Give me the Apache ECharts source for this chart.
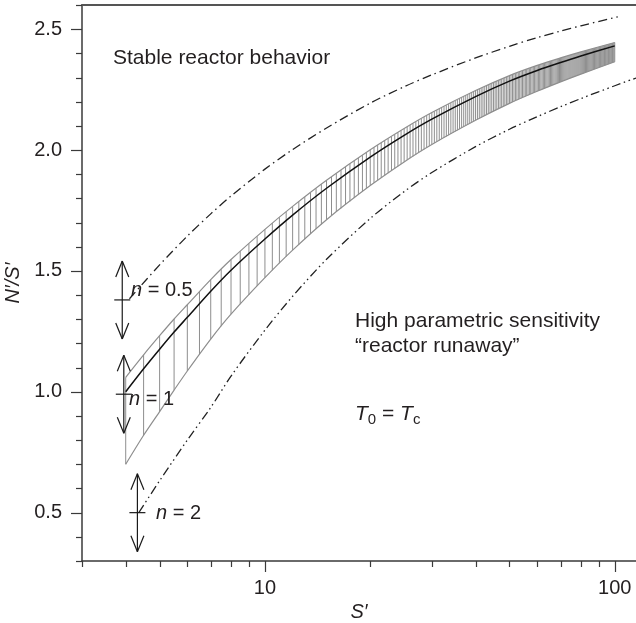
<!DOCTYPE html>
<html><head><meta charset="utf-8">
<script src="https://cdn.jsdelivr.net/npm/echarts@6/dist/echarts.min.js"></script>
<style>html,body{margin:0;padding:0;background:#fff}#c{width:636px;height:623px}</style>
</head><body><div id="c"></div>
<script>
// ---------- data ----------
const bandS   = [4, 4.5, 5, 5.5, 6, 7, 8, 10, 12, 15, 20, 25, 30, 40, 50, 60, 70, 80, 100];
const centerV = [1.00, 1.095, 1.176, 1.247, 1.308, 1.416, 1.503, 1.632, 1.731, 1.842, 1.971, 2.061, 2.128, 2.221, 2.285, 2.329, 2.362, 2.389, 2.431];
const upperV  = [1.06, 1.153, 1.232, 1.301, 1.36, 1.464, 1.547, 1.672, 1.767, 1.875, 2.001, 2.089, 2.155, 2.246, 2.308, 2.35, 2.381, 2.406, 2.445];
const lowerV  = [0.70, 0.82, 0.918, 1.007, 1.086, 1.218, 1.321, 1.472, 1.586, 1.712, 1.853, 1.951, 2.023, 2.123, 2.193, 2.243, 2.282, 2.314, 2.365];

const halfS = [4.1, 5, 6, 7, 8, 10, 12, 15, 20, 25, 30, 40, 50, 60, 70, 80, 102];
const halfV = [1.385, 1.525, 1.644, 1.736, 1.81, 1.921, 2.002, 2.091, 2.194, 2.262, 2.311, 2.381, 2.429, 2.465, 2.492, 2.514, 2.551];

const twoS = [4.36, 5, 6, 7, 8, 10, 12, 15, 20, 25, 30, 40, 50, 60, 70, 80, 100, 115];
const twoV = [0.50, 0.632, 0.80, 0.935, 1.065, 1.255, 1.395, 1.548, 1.717, 1.828, 1.907, 2.014, 2.086, 2.138, 2.179, 2.213, 2.266, 2.298];

// annotation arrows (start point of each curve family)
const arrowS = [3.91, 3.95, 4.32];
const arrowV = [1.38, 0.99, 0.50];
const arrowText = ['0.5', '1', '2'];

// axis ticks and labels
const xMinorTicks = [3, 4, 5, 6, 7, 8, 9, 20, 30, 40, 50, 60, 70, 80, 90];
const xMajorTicks = [10, 100];
const yMajorTicks = [0.5, 1.0, 1.5, 2.0, 2.5];
const yMinorTicks = [0.3, 0.4, 0.6, 0.7, 0.8, 0.9, 1.1, 1.2, 1.3, 1.4, 1.6, 1.7, 1.8, 1.9, 2.1, 2.2, 2.3, 2.4, 2.6];

const X_MIN = 3, X_MAX = 115, Y_MIN = 0.3, Y_MAX = 2.6;
const HATCH_START = 4, HATCH_END = 100, HATCH_STEP = 0.5;

// ---------- styles ----------
const FONT = 'Liberation Sans, Arial, Helvetica, sans-serif';
const TXT = '#231f20';
const AX = '#3a3a3a';
const GRAY = '#8e8e8e';
const SMOOTH = 0.3;

function pairs(xs, ys) { return xs.map((x, i) => [x, ys[i]]); }

function interpY(pts, x) {
  for (let i = 0; i < pts.length - 1; i++) {
    const a = pts[i], b = pts[i + 1];
    if (x >= a[0] - 0.01 && x <= b[0] + 0.01) {
      const t = (b[0] === a[0]) ? 0 : (x - a[0]) / (b[0] - a[0]);
      return a[1] + t * (b[1] - a[1]);
    }
  }
  return pts[pts.length - 1][1];
}

function renderHatch(params, api) {
  const up = bandS.map((s, i) => api.coord([s, upperV[i]]));
  const lo = bandS.map((s, i) => api.coord([s, lowerV[i]]));
  const children = [];
  for (let s = HATCH_START; s <= HATCH_END + 1e-9; s += HATCH_STEP) {
    const x = api.coord([s, 1])[0];
    children.push({
      type: 'line',
      shape: { x1: x, y1: interpY(up, x), x2: x, y2: interpY(lo, x) },
      style: { stroke: GRAY, lineWidth: 1 }
    });
  }
  return { type: 'group', children };
}

function seg(x1, y1, x2, y2, w, c) {
  return { type: 'line', shape: { x1, y1, x2, y2 }, style: { stroke: c || AX, lineWidth: w || 1 } };
}

function renderTicks(params, api) {
  const children = [];
  const yb = api.coord([10, Y_MIN])[1];
  const xl = api.coord([X_MIN, 1])[0];
  xMinorTicks.forEach(s => { const x = Math.round(api.coord([s, Y_MIN])[0]) + 0.5; children.push(seg(x, yb, x, yb + 6, 1.2)); });
  xMajorTicks.forEach(s => { const x = Math.round(api.coord([s, Y_MIN])[0]) + 0.5; children.push(seg(x, yb, x, yb + 11, 1.2)); });
  yMinorTicks.forEach(v => { const y = Math.round(api.coord([10, v])[1]) + 0.5; children.push(seg(xl - 6, y, xl, y, 1.2)); });
  yMajorTicks.forEach(v => { const y = Math.round(api.coord([10, v])[1]) + 0.5; children.push(seg(xl - 11, y, xl, y, 1.2)); });
  return { type: 'group', children };
}

const ARROW_HALF = 39, HEAD_W = 6.5, HEAD_L = 16, BAR_HALF = 8;
function renderArrows(params, api) {
  const children = [];
  arrowS.forEach((s, i) => {
    const c = api.coord([s, arrowV[i]]);
    const x = c[0], y = c[1];
    const t = y - ARROW_HALF, b = y + ARROW_HALF;
    const col = '#1a1a1a';
    children.push(seg(x, t, x, b, 1.2, col));
    children.push(seg(x - BAR_HALF, y, x + BAR_HALF, y, 1.2, col));
    children.push(seg(x, t, x - HEAD_W, t + HEAD_L, 1.2, col));
    children.push(seg(x, t, x + HEAD_W, t + HEAD_L, 1.2, col));
    children.push(seg(x, b, x - HEAD_W, b - HEAD_L, 1.2, col));
    children.push(seg(x, b, x + HEAD_W, b - HEAD_L, 1.2, col));
  });
  return { type: 'group', children };
}

const chart = echarts.init(document.getElementById('c'), null, { renderer: 'canvas' });

const textBase = { fontFamily: FONT, fontSize: 20, fill: TXT };
function txt(x, y, text, extra) {
  return { type: 'text', left: x, top: y, silent: true, style: Object.assign({ text }, textBase, extra || {}) };
}

const nLabelPos = [[131, 280], [129, 389], [156, 503]];

chart.setOption({
  animation: false,
  backgroundColor: '#fff',
  grid: { left: 82, right: 0, top: 5, bottom: 62, containLabel: false, outerBoundsMode: 'none' },
  xAxis: [{
    type: 'log', logBase: 10, min: X_MIN, max: X_MAX,
    axisLine: { show: true, onZero: false, lineStyle: { color: AX, width: 1.5 } },
    axisTick: { show: false },
    splitLine: { show: false },
    axisLabel: {
      margin: 17, fontSize: 20, color: TXT, fontFamily: FONT,
      showMinLabel: false, showMaxLabel: false,
      formatter: v => {
        const l = Math.log10(v);
        return Math.abs(l - Math.round(l)) < 1e-6 ? String(Math.round(v)) : '';
      }
    },
    name: 'S′', nameLocation: 'middle', nameGap: 36,
    nameTextStyle: { fontStyle: 'italic', fontSize: 20, color: TXT, fontFamily: FONT }
  }, {
    type: 'log', logBase: 10, min: X_MIN, max: X_MAX, position: 'top',
    axisLine: { show: true, onZero: false, lineStyle: { color: '#555', width: 2 } },
    axisTick: { show: false }, axisLabel: { show: false }, splitLine: { show: false }
  }],
  yAxis: {
    type: 'value', min: Y_MIN, max: Y_MAX,
    axisLine: { show: true, onZero: false, lineStyle: { color: AX, width: 1.5 } },
    axisTick: { show: false },
    splitLine: { show: false },
    axisLabel: {
      customValues: yMajorTicks, margin: 20, fontSize: 20, color: TXT, fontFamily: FONT,
      formatter: v => Number(v).toFixed(1)
    },
    name: 'N′/S′', nameLocation: 'middle', nameGap: 52,
    nameTextStyle: { fontStyle: 'italic', fontSize: 20, color: TXT, fontFamily: FONT }
  },
  series: [
    { type: 'custom', name: 'hatch', clip: false, silent: true, data: [[10, 1]], renderItem: renderHatch, z: 1 },
    { type: 'line', name: 'upper', data: pairs(bandS, upperV), showSymbol: false, silent: true, smooth: SMOOTH,
      lineStyle: { color: GRAY, width: 1.2 }, z: 2 },
    { type: 'line', name: 'lower', data: pairs(bandS, lowerV), showSymbol: false, silent: true, smooth: SMOOTH,
      lineStyle: { color: GRAY, width: 1.2 }, z: 2 },
    { type: 'line', name: 'n=1', data: pairs(bandS, centerV), showSymbol: false, silent: true, smooth: SMOOTH,
      lineStyle: { color: '#111', width: 1.5 }, z: 3 },
    { type: 'line', name: 'n=0.5', data: pairs(halfS, halfV), showSymbol: false, silent: true, smooth: SMOOTH,
      lineStyle: { color: '#222', width: 1.3, type: [9, 4, 1.5, 4] }, z: 3 },
    { type: 'line', name: 'n=2', data: pairs(twoS, twoV), showSymbol: false, silent: true, smooth: SMOOTH,
      lineStyle: { color: '#222', width: 1.3, type: [9, 3.5, 1.5, 3.5, 1.5, 3.5] }, z: 3 },
    { type: 'custom', name: 'ticks', clip: false, silent: true, data: [[10, 1]], renderItem: renderTicks, z: 4 },
    { type: 'custom', name: 'arrows', clip: false, silent: true, data: [[10, 1]], renderItem: renderArrows, z: 4 }
  ],
  graphic: [
    txt(113, 48, 'Stable reactor behavior', { fontSize: 21 }),
    txt(355, 311, 'High parametric sensitivity', { fontSize: 21 }),
    txt(355, 336, '“reactor runaway”', { fontSize: 21 }),
    {
      type: 'text', left: 355, top: 404, silent: true,
      style: {
        text: '{i|T}{s|0}{n| = }{i|T}{s|c}',
        fontFamily: FONT, fill: TXT,
        rich: {
          i: { fontStyle: 'italic', fontSize: 21, lineHeight: 26, verticalAlign: 'middle', fontFamily: FONT, color: TXT },
          n: { fontSize: 21, lineHeight: 26, verticalAlign: 'middle', fontFamily: FONT, color: TXT },
          s: { fontSize: 15, lineHeight: 18, verticalAlign: 'bottom', fontFamily: FONT, color: TXT }
        }
      }
    }
  ].concat(arrowText.map((t, i) => ({
    type: 'text', left: nLabelPos[i][0], top: nLabelPos[i][1], silent: true, z: 10,
    style: {
      text: '{i|n} = ' + t, fontFamily: FONT, fontSize: 20, fill: TXT,
      rich: { i: { fontStyle: 'italic', fontSize: 20, fontFamily: FONT, color: TXT } }
    }
  })))
});
</script>
</body></html>
